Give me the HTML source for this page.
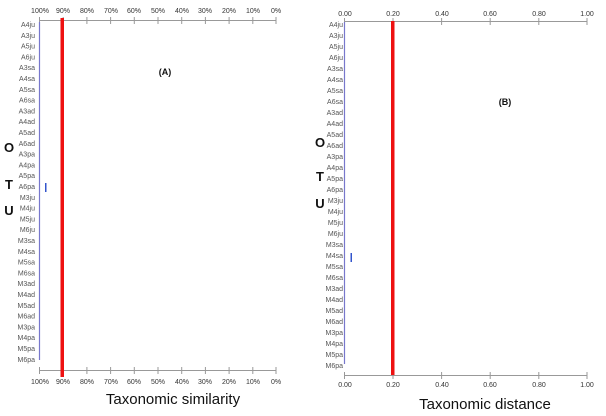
<!DOCTYPE html>
<html><head><meta charset="utf-8"><style>
html,body{margin:0;padding:0;background:#fff;}
svg{display:block;font-family:"Liberation Sans",sans-serif;}
.l{font-size:7px;fill:#555;text-anchor:end;}
.t{font-size:7px;fill:#333;text-anchor:middle;}
.o{font-size:13px;font-weight:bold;fill:#111;text-anchor:middle;}
</style></head><body>
<svg width="606" height="416" viewBox="0 0 606 416">
<!-- LEFT PANEL -->
<g stroke="#999" stroke-width="1">
<line x1="39" y1="20.5" x2="276" y2="20.5"/>
<line x1="39" y1="370.5" x2="276" y2="370.5"/>
<line x1="39.5" y1="17" x2="39.5" y2="24"/><line x1="63.2" y1="17" x2="63.2" y2="24"/><line x1="86.9" y1="17" x2="86.9" y2="24"/><line x1="110.6" y1="17" x2="110.6" y2="24"/><line x1="134.3" y1="17" x2="134.3" y2="24"/><line x1="158" y1="17" x2="158" y2="24"/><line x1="181.7" y1="17" x2="181.7" y2="24"/><line x1="205.4" y1="17" x2="205.4" y2="24"/><line x1="229.1" y1="17" x2="229.1" y2="24"/><line x1="252.8" y1="17" x2="252.8" y2="24"/><line x1="276" y1="17" x2="276" y2="24"/>
<line x1="39.5" y1="367" x2="39.5" y2="374"/><line x1="63.2" y1="367" x2="63.2" y2="374"/><line x1="86.9" y1="367" x2="86.9" y2="374"/><line x1="110.6" y1="367" x2="110.6" y2="374"/><line x1="134.3" y1="367" x2="134.3" y2="374"/><line x1="158" y1="367" x2="158" y2="374"/><line x1="181.7" y1="367" x2="181.7" y2="374"/><line x1="205.4" y1="367" x2="205.4" y2="374"/><line x1="229.1" y1="367" x2="229.1" y2="374"/><line x1="252.8" y1="367" x2="252.8" y2="374"/><line x1="276" y1="367" x2="276" y2="374"/>
</g>
<g class="t">
<text x="40" y="13">100%</text><text x="63" y="13">90%</text><text x="87" y="13">80%</text><text x="111" y="13">70%</text><text x="134" y="13">60%</text><text x="158" y="13">50%</text><text x="182" y="13">40%</text><text x="205" y="13">30%</text><text x="229" y="13">20%</text><text x="253" y="13">10%</text><text x="276" y="13">0%</text>
<text x="40" y="384">100%</text><text x="63" y="384">90%</text><text x="87" y="384">80%</text><text x="111" y="384">70%</text><text x="134" y="384">60%</text><text x="158" y="384">50%</text><text x="182" y="384">40%</text><text x="205" y="384">30%</text><text x="229" y="384">20%</text><text x="253" y="384">10%</text><text x="276" y="384">0%</text>
</g>
<line x1="39.5" y1="22" x2="39.5" y2="360" stroke="#7777cc" stroke-width="1.2"/>
<rect x="60.5" y="18" width="3.5" height="359" fill="#ee1111"/>
<rect x="45" y="183" width="1.5" height="9" fill="#3355cc"/>
<g class="l">
<text x="35" y="27">A4ju</text><text x="35" y="37.8">A3ju</text><text x="35" y="48.6">A5ju</text><text x="35" y="59.4">A6ju</text><text x="35" y="70.2">A3sa</text><text x="35" y="81">A4sa</text><text x="35" y="91.8">A5sa</text><text x="35" y="102.6">A6sa</text><text x="35" y="113.4">A3ad</text><text x="35" y="124.2">A4ad</text><text x="35" y="135">A5ad</text><text x="35" y="145.8">A6ad</text><text x="35" y="156.6">A3pa</text><text x="35" y="167.4">A4pa</text><text x="35" y="178.2">A5pa</text><text x="35" y="189">A6pa</text><text x="35" y="199.8">M3ju</text><text x="35" y="210.6">M4ju</text><text x="35" y="221.4">M5ju</text><text x="35" y="232.2">M6ju</text><text x="35" y="243">M3sa</text><text x="35" y="253.8">M4sa</text><text x="35" y="264.6">M5sa</text><text x="35" y="275.4">M6sa</text><text x="35" y="286.2">M3ad</text><text x="35" y="297">M4ad</text><text x="35" y="307.8">M5ad</text><text x="35" y="318.6">M6ad</text><text x="35" y="329.4">M3pa</text><text x="35" y="340.2">M4pa</text><text x="35" y="351">M5pa</text><text x="35" y="361.8">M6pa</text>
</g>
<text class="o" x="9" y="152">O</text><text class="o" x="9" y="189">T</text><text class="o" x="9" y="215">U</text>
<text x="165" y="75" font-size="9" font-weight="bold" text-anchor="middle" fill="#111">(A)</text>
<text x="173" y="404" font-size="15" text-anchor="middle" fill="#111">Taxonomic similarity</text>

<!-- RIGHT PANEL -->
<g stroke="#999" stroke-width="1">
<line x1="344" y1="21.5" x2="587" y2="21.5"/>
<line x1="344" y1="375.5" x2="587" y2="375.5"/>
<line x1="344.5" y1="18" x2="344.5" y2="25"/><line x1="393" y1="18" x2="393" y2="25"/><line x1="441.6" y1="18" x2="441.6" y2="25"/><line x1="490.2" y1="18" x2="490.2" y2="25"/><line x1="538.8" y1="18" x2="538.8" y2="25"/><line x1="587" y1="18" x2="587" y2="25"/>
<line x1="344.5" y1="372" x2="344.5" y2="379"/><line x1="393" y1="372" x2="393" y2="379"/><line x1="441.6" y1="372" x2="441.6" y2="379"/><line x1="490.2" y1="372" x2="490.2" y2="379"/><line x1="538.8" y1="372" x2="538.8" y2="379"/><line x1="587" y1="372" x2="587" y2="379"/>
</g>
<g class="t" font-size="6.5">
<text x="345" y="16">0.00</text><text x="393" y="16">0.20</text><text x="442" y="16">0.40</text><text x="490" y="16">0.60</text><text x="539" y="16">0.80</text><text x="587" y="16">1.00</text>
<text x="345" y="387">0.00</text><text x="393" y="387">0.20</text><text x="442" y="387">0.40</text><text x="490" y="387">0.60</text><text x="539" y="387">0.80</text><text x="587" y="387">1.00</text>
</g>
<line x1="344.5" y1="22" x2="344.5" y2="364" stroke="#7777cc" stroke-width="1.2"/>
<rect x="391" y="21" width="3.5" height="354" fill="#ee1111"/>
<rect x="350.5" y="253" width="1.5" height="9" fill="#3355cc"/>
<g class="l">
<text x="343" y="27">A4ju</text><text x="343" y="38">A3ju</text><text x="343" y="49">A5ju</text><text x="343" y="60">A6ju</text><text x="343" y="71">A3sa</text><text x="343" y="82">A4sa</text><text x="343" y="93">A5sa</text><text x="343" y="104">A6sa</text><text x="343" y="115">A3ad</text><text x="343" y="126">A4ad</text><text x="343" y="137">A5ad</text><text x="343" y="148">A6ad</text><text x="343" y="159">A3pa</text><text x="343" y="170">A4pa</text><text x="343" y="181">A5pa</text><text x="343" y="192">A6pa</text><text x="343" y="203">M3ju</text><text x="343" y="214">M4ju</text><text x="343" y="225">M5ju</text><text x="343" y="236">M6ju</text><text x="343" y="247">M3sa</text><text x="343" y="258">M4sa</text><text x="343" y="269">M5sa</text><text x="343" y="280">M6sa</text><text x="343" y="291">M3ad</text><text x="343" y="302">M4ad</text><text x="343" y="313">M5ad</text><text x="343" y="324">M6ad</text><text x="343" y="335">M3pa</text><text x="343" y="346">M4pa</text><text x="343" y="357">M5pa</text><text x="343" y="368">M6pa</text>
</g>
<text class="o" x="320" y="147">O</text><text class="o" x="320" y="181">T</text><text class="o" x="320" y="208">U</text>
<text x="505" y="105" font-size="9" font-weight="bold" text-anchor="middle" fill="#111">(B)</text>
<text x="485" y="409" font-size="15" text-anchor="middle" fill="#111">Taxonomic distance</text>
</svg>
</body></html>
